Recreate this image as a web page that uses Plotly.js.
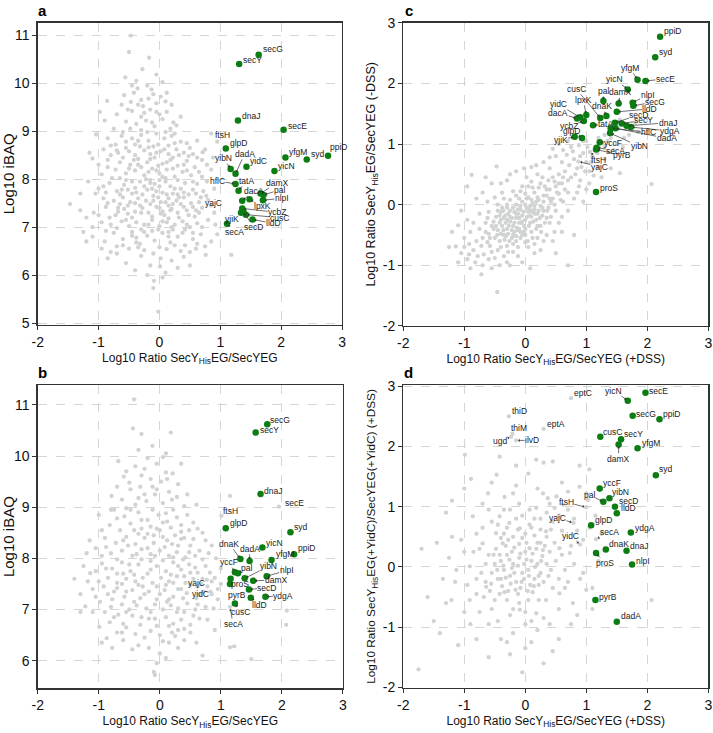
<!DOCTYPE html>
<html><head><meta charset="utf-8">
<script src="https://cdn.plot.ly/plotly-3.0.1.min.js"></script>
<style>html,body{margin:0;padding:0;background:#fff}#chart{width:713px;height:733px}</style>
</head><body><div id="chart"></div>
<script>
// ---------------- DATA ----------------
const ticksRatio = [-2,-1,0,1,2,3];
const ticksIBAQa = [5,6,7,8,9,10,11];
const ticksIBAQb = [6,7,8,9,10,11];

// Panel a: Log10 ratio SecY(His)EG/SecYEG (x) vs Log10 iBAQ (y), background proteins
const greyA = [[-0.47,10.99],[-0.50,10.65],[-0.17,10.53],[-0.28,10.29],[-0.56,10.12],[-0.05,10.18],[-0.38,10.05],[0.05,10.02],
[-0.36,9.89],[-0.13,9.87],[-0.10,9.77],[-0.47,9.61],[-0.86,9.63],[-0.27,9.52],[-0.58,9.75],[-0.20,9.95],[0.02,9.72],[-0.42,9.80],[-0.30,9.65],[-0.05,9.58],[0.10,9.62],[-0.62,9.55],[-0.18,9.68],
[0.23,9.18],[-0.70,9.35],[-0.45,9.42],[-0.30,9.30],[-0.15,9.45],[0.0,9.35],[0.12,9.40],[-0.55,9.20],[-0.38,9.15],[-0.22,9.22],[-0.08,9.10],[0.05,9.25],[-0.75,9.05],[-0.30,9.02],[0.18,9.05],[-0.48,9.05],[-0.90,9.22],[0.35,9.30],[-0.12,9.18],
[-1.04,8.93],[0.71,8.56],[-0.62,8.90],[-0.45,8.85],[-0.30,8.92],[-0.18,8.80],[-0.05,8.95],[0.08,8.85],[0.20,8.90],[0.35,8.78],[-0.80,8.70],[-0.55,8.65],[-0.40,8.72],[-0.25,8.60],[-0.10,8.68],[0.02,8.58],[0.15,8.70],[0.28,8.62],[0.45,8.75],[-0.68,8.55],[0.55,8.52],[-0.15,8.52],[0.40,8.55],[-0.92,8.62],[0.62,8.80],[0.85,8.95],
[-1.10,8.43],[-0.85,8.40],[-0.60,8.45],[-0.48,8.30],[-0.35,8.42],[-0.20,8.35],[-0.08,8.45],[0.05,8.32],[0.18,8.40],[0.30,8.28],[0.45,8.38],[0.58,8.25],[0.70,8.40],[-0.72,8.20],[-0.55,8.12],[-0.40,8.18],[-0.25,8.08],[-0.12,8.22],[0.00,8.12],[0.12,8.20],[0.25,8.05],[0.38,8.15],[0.52,8.08],[0.65,8.15],[-0.95,8.10],[-0.30,8.25],[0.10,8.02],[-0.18,8.15],[0.85,8.20],[-0.65,8.02],[0.22,8.45],[-0.02,8.28],
[-1.17,7.95],[-1.00,7.80],[-0.82,7.92],[-0.70,7.75],[-0.58,7.88],[-0.45,7.70],[-0.32,7.95],[-0.20,7.78],[-0.08,7.90],[0.05,7.72],[0.18,7.85],[0.30,7.68],[0.42,7.92],[0.55,7.78],[0.68,7.62],[0.80,7.57],[-0.92,7.60],[-0.75,7.55],[-0.60,7.62],[-0.48,7.52],[-0.35,7.60],[-0.22,7.55],[-0.10,7.65],[0.02,7.52],[0.15,7.60],[0.28,7.55],[0.40,7.62],[0.52,7.50],[-0.15,7.98],[0.10,7.95],[-0.40,7.82],[0.35,7.80],[0.62,7.90],[-0.05,7.75],[0.22,7.70],[-0.28,7.68],[0.48,7.68],[-0.55,7.98],[0.90,7.80],
[-1.30,7.35],[-1.47,7.48],[-1.08,7.30],[-0.88,7.42],[-0.72,7.25],[-0.58,7.38],[-0.45,7.20],[-0.32,7.45],[-0.18,7.30],[-0.05,7.42],[0.08,7.25],[0.20,7.38],[0.32,7.20],[0.45,7.35],[0.58,7.22],[0.70,7.40],[-0.95,7.10],[-0.80,7.05],[-0.62,7.12],[-0.50,7.02],[-0.38,7.10],[-0.25,7.05],[-0.12,7.15],[0.00,7.02],[0.12,7.10],[0.25,7.05],[0.38,7.12],[0.50,7.00],[0.62,7.08],[0.80,7.15],[-0.15,7.48],[0.15,7.45],[-0.40,7.32],[0.35,7.48],[0.05,7.33],[-0.65,7.48],[0.90,7.30],
[-1.10,6.80],[-0.90,6.70],[-0.75,6.88],[-0.60,6.75],[-0.45,6.90],[-0.32,6.65],[-0.20,6.82],[-0.08,6.72],[0.05,6.88],[0.18,6.68],[0.30,6.80],[0.42,6.62],[0.55,6.75],[0.68,6.85],[0.85,6.70],[-0.50,6.55],[-0.25,6.52],[0.0,6.58],[0.12,6.54],[0.35,6.50],[-0.70,6.60],[0.60,6.55],[-0.02,6.95],[-0.38,6.78],[0.22,6.95],
[1.18,6.42],[0.76,6.42],[0.01,6.18],[-0.85,6.35],[-0.55,6.25],[-0.30,6.40],[-0.15,6.20],[0.20,6.30],[0.40,6.38],[-0.70,6.45],[0.10,6.05],[-0.40,6.10],[0.50,6.20],
[-0.10,5.73],[-0.02,5.24],[-0.09,5.88],[0.05,5.95],
[-0.52,9.45],[-0.35,9.55],[-0.05,9.40],[0.20,9.55],[-0.60,8.98],[-0.20,8.98],[0.10,8.98],[0.28,9.12],[-0.85,8.85],[-0.35,8.80],[-0.02,8.72],[0.25,8.75],[0.50,8.65],[-0.72,8.72],[-0.50,8.58],[-0.32,8.68],[-0.18,8.66],[0.08,8.62],[0.32,8.50],[-0.80,8.50],[-0.40,8.50],[-0.05,8.55],[0.15,8.52],[0.62,8.45],[-1.00,8.30],[-0.65,8.35],[-0.42,8.40],[-0.15,8.42],[0.12,8.35],[0.40,8.30],[0.78,8.30],[-0.85,8.25],[-0.50,8.22],[-0.35,8.30],[-0.05,8.18],[0.22,8.22],[0.45,8.18],[0.70,8.05],[-0.78,8.02],[-0.45,7.95],[-0.22,8.00],[0.00,7.98],[0.30,7.98],[0.55,7.95],[0.78,7.95],[-1.05,7.70],[-0.88,7.72],[-0.65,7.68],[-0.52,7.78],[-0.38,7.72],[-0.25,7.85],[-0.12,7.80],[0.00,7.85],[0.12,7.68],[0.25,7.80],[0.40,7.72],[0.60,7.70],[0.72,7.75],[-0.85,7.50],[-0.68,7.40],[-0.52,7.45],[-0.40,7.50],[-0.28,7.40],[-0.10,7.55],[0.00,7.40],[0.10,7.52],[0.22,7.48],[0.40,7.42],[0.55,7.42],[0.65,7.52],[-1.20,7.20],[-1.00,7.25],[-0.82,7.20],[-0.68,7.32],[-0.52,7.28],[-0.30,7.30],[-0.12,7.22],[0.02,7.28],[0.15,7.18],[0.30,7.30],[0.48,7.25],[0.65,7.30],[0.85,7.45],[-1.10,7.00],[-0.70,6.98],[-0.55,7.15],[-0.30,6.95],[-0.18,7.05],[0.05,7.12],[0.20,7.00],[0.42,6.95],[0.55,6.88],[0.70,7.00],[-0.88,6.92],[-0.45,6.82],[-0.25,6.90],[-0.12,6.92],[0.15,6.80],[0.38,6.88],[0.62,6.65],[-0.95,6.55],[-0.60,6.62],[-0.35,6.58],[-0.10,6.45],[0.25,6.62],[0.50,6.48],[0.75,6.60],[-1.20,6.70],[-0.80,6.48],[0.30,6.15],[-0.20,6.00],[0.02,6.35],[0.45,7.05],[-0.15,7.92],[0.48,8.48],[-0.25,9.38],[0.12,9.80],[-0.45,9.95],[0.25,8.95],[-0.55,8.78],[0.05,8.05],[0.32,7.62],[-0.02,7.62],[-0.62,7.78],[0.18,7.35],[-0.38,6.68],[0.92,7.05],[0.95,6.85],[-1.30,7.70],[-1.15,8.55],[-0.98,9.40],[0.75,8.62],[0.88,8.45],[-1.25,6.90],[-0.92,7.85],[-0.70,8.60],[0.60,7.35],[0.15,6.90]];
const greyLabA = ['ftsH','yajC'];
const greyLabAx = [0.95,0.77];
const greyLabAy = [8.78,7.65];
const namesA = ['secG','secY','dnaJ','secE','glpD','yfgM','syd','ppiD','yibN','dadA','yidC','yicN','hflC','tatA','damX','pal','nlpI','dacA','lpxK','ycbZ','yjiK','cusC','lldD','secA','secD'];
const xA = [1.63,1.31,1.29,2.04,1.09,2.07,2.42,2.77,1.17,1.25,1.43,1.89,1.25,1.30,1.66,1.71,1.70,1.36,1.48,1.36,1.34,1.42,1.53,1.11,1.38];
const yA = [10.59,10.40,9.22,9.03,8.64,8.45,8.41,8.49,8.21,8.11,8.26,8.17,7.90,7.76,7.70,7.67,7.56,7.55,7.58,7.39,7.30,7.26,7.16,7.07,7.33];

// Panel b
const greyB = [[-0.42,11.11],[-0.44,10.54],[-0.30,10.43],[0.18,10.46],[0.10,10.05],[-0.20,9.96],[0.21,9.66],[-0.59,9.60],[-0.79,9.22],[1.15,9.22],
[0.05,9.98],[-0.05,9.85],[-0.25,9.75],[-0.40,9.80],[-0.55,9.70],[0.02,9.50],[-0.15,9.55],[-0.32,9.40],[-0.48,9.35],[0.15,9.30],[-0.08,9.25],[0.30,9.45],[-0.62,9.15],[-0.22,9.12],[0.05,9.08],[0.40,9.02],[-0.40,9.05],[0.20,9.15],[-0.75,8.95],[-0.12,8.95],[0.55,8.70],
[-1.0,8.85],[-0.58,8.82],[-0.35,8.90],[-0.20,8.75],[-0.02,8.85],[0.12,8.72],[0.28,8.80],[0.45,8.85],[-0.82,8.65],[-0.65,8.55],[-0.48,8.68],[-0.30,8.58],[-0.15,8.62],[0.00,8.55],[0.18,8.60],[0.35,8.52],[0.62,8.58],[0.75,8.35],[-0.90,8.40],[-0.72,8.30],[-0.55,8.42],[-0.40,8.28],[-0.25,8.40],[-0.10,8.30],[0.05,8.42],[0.20,8.28],[0.35,8.38],[0.50,8.25],[0.65,8.15],[-1.05,8.20],[-0.80,8.10],[-0.62,8.15],[-0.45,8.05],[-0.30,8.18],[-0.15,8.08],[0.00,8.15],[0.15,8.05],[0.28,8.12],[0.42,8.02],[0.58,8.05],[0.80,8.10],[-0.20,8.48],[0.10,8.88],[-0.48,8.95],
[-1.14,7.71],[-1.25,7.85],[-0.95,7.90],[-0.78,7.80],[-0.62,7.92],[-0.48,7.75],[-0.35,7.88],[-0.20,7.70],[-0.05,7.85],[0.10,7.75],[0.22,7.92],[0.35,7.78],[0.48,7.88],[0.62,7.72],[0.75,7.85],[0.90,7.62],[-1.00,7.55],[-0.85,7.62],[-0.70,7.52],[-0.55,7.60],[-0.40,7.55],[-0.28,7.62],[-0.12,7.52],[0.02,7.62],[0.15,7.55],[0.28,7.65],[0.42,7.52],[0.55,7.60],[0.68,7.50],[0.85,7.55],[-0.30,7.98],[0.05,7.96],[0.38,7.98],[-0.60,7.70],[0.50,7.72],[1.00,7.80],
[-1.22,7.06],[-0.98,7.15],[-1.10,7.40],[-0.85,7.30],[-0.70,7.42],[-0.58,7.25],[-0.45,7.38],[-0.32,7.22],[-0.18,7.35],[-0.05,7.20],[0.08,7.38],[0.22,7.25],[0.35,7.40],[0.44,7.32],[0.60,7.22],[0.72,7.35],[0.95,7.20],[-0.80,7.05],[-0.62,7.10],[-0.50,7.00],[-0.38,7.08],[-0.22,7.02],[-0.08,7.10],[0.05,7.00],[0.18,7.08],[0.30,7.02],[0.45,7.12],[0.58,7.00],[0.75,7.05],[-0.28,7.45],[0.10,7.48],[0.62,7.45],
[-0.99,6.66],[-0.87,6.44],[-1.10,6.95],[-0.75,6.85],[-0.60,6.72],[-0.45,6.88],[-0.32,6.70],[-0.18,6.82],[-0.05,6.68],[0.10,6.85],[0.22,6.72],[0.35,6.80],[0.50,6.70],[0.65,6.82],[-0.70,6.55],[-0.40,6.52],[-0.15,6.58],[0.00,6.50],[0.20,6.55],[0.40,6.62],[2.07,6.70],[2.08,6.98],[-0.55,6.95],[0.28,6.95],
[1.15,6.26],[1.22,6.28],[0.0,6.14],[-0.10,5.78],[-0.08,5.72],[1.50,6.03],[-0.60,6.40],[-0.35,6.30],[0.15,6.35],[0.40,6.40],[0.70,6.10],
[-0.50,9.48],[-0.30,9.62],[-0.12,9.40],[0.12,9.55],[-0.35,9.18],[-0.05,9.35],[0.28,9.20],[-0.55,8.98],[-0.30,8.75],[0.05,8.70],[0.22,8.95],[-0.70,8.78],[-0.42,8.55],[-0.10,8.45],[0.25,8.45],[0.48,8.55],[-0.95,8.55],[-0.60,8.35],[-0.35,8.48],[-0.05,8.58],[0.12,8.35],[0.40,8.40],[0.70,8.50],[-1.15,8.35],[-0.88,8.22],[-0.52,8.25],[-0.20,8.20],[0.08,8.22],[0.30,8.25],[0.55,8.38],[0.85,8.25],[-0.95,8.05],[-0.70,7.98],[-0.38,8.08],[-0.08,8.05],[0.22,8.02],[0.48,8.12],[0.70,7.98],[-1.05,7.75],[-0.88,7.80],[-0.70,7.70],[-0.42,7.68],[-0.15,7.78],[0.18,7.68],[0.40,7.65],[0.58,7.82],[0.82,7.72],[-1.18,7.55],[-0.92,7.45],[-0.62,7.50],[-0.35,7.48],[-0.05,7.45],[0.22,7.52],[0.50,7.48],[0.78,7.45],[0.95,7.40],[-1.05,7.25],[-0.78,7.20],[-0.55,7.35],[-0.25,7.30],[0.00,7.30],[0.15,7.20],[0.38,7.22],[0.65,7.30],[0.85,7.30],[-0.90,6.95],[-0.68,6.90],[-0.42,7.15],[-0.15,6.95],[0.12,7.15],[0.40,6.95],[0.62,7.10],[0.88,7.02],[-0.82,6.75],[-0.55,6.65],[-0.30,6.85],[-0.08,6.82],[0.15,6.68],[0.30,6.60],[0.55,6.88],[0.78,6.80],[-0.62,6.55],[-0.25,6.45],[0.05,6.38],[0.25,6.48],[0.50,6.55],[-0.45,6.22],[-0.18,6.25],[0.30,6.25],[-0.78,6.25],[0.60,6.35],[-1.30,7.30],[-1.40,7.60],[-1.20,8.10],[-1.30,6.95],[0.92,8.00],[1.00,7.50],[0.45,9.25],[-0.70,9.40],[0.10,9.68],[-0.12,10.20],[-0.35,10.12],[0.35,9.85],[-0.68,9.90],[-0.25,9.25],[0.60,9.05],[0.35,8.65],[-0.80,8.95],[-0.15,7.95],[0.30,7.85],[-0.50,7.88],[0.70,7.60],[-0.75,7.35],[0.30,7.40],[0.90,6.60],[-0.95,6.35],[0.10,6.05],[-0.05,5.95]];
const greyLabB = ['secE','ftsH','secA','yajC','yidC'];
const greyLabBx = [1.95,1.01,1.15,0.77,0.83];
const greyLabBy = [9.01,8.83,7.05,7.58,7.35];
const namesB = ['secG','secY','dnaJ','glpD','syd','yicN','ppiD','yfgM','dnaK','dadA','yccF','pal','nlpI','yibN','proS','damX','pyrB','secD','lldD','ydgA','cusC'];
const xB = [1.76,1.57,1.65,1.08,2.14,1.68,2.20,1.83,1.32,1.47,1.23,1.28,1.75,1.39,1.16,1.53,1.15,1.46,1.49,1.73,1.23];
const yB = [10.62,10.46,9.26,8.59,8.51,8.21,8.08,7.97,7.99,7.95,7.73,7.71,7.65,7.61,7.60,7.56,7.50,7.39,7.23,7.25,7.12];

// Panel c: (+DSS) vs (-DSS)
const greyC = [[-0.45,-0.42],[-0.38,-0.35],[-0.30,-0.40],[-0.25,-0.28],[-0.20,-0.35],[-0.15,-0.22],[-0.10,-0.30],[-0.05,-0.18],[0.00,-0.25],[0.05,-0.12],[0.10,-0.20],[0.15,-0.08],[0.20,-0.15],[0.25,-0.02],[-0.40,-0.25],[-0.33,-0.18],[-0.28,-0.48],[-0.18,-0.12],[-0.12,-0.42],[-0.08,-0.08],[-0.02,-0.35],[0.02,-0.05],[0.08,-0.30],[0.12,0.02],[0.18,-0.25],[0.22,0.08],[-0.50,-0.55],[-0.42,-0.60],[-0.35,-0.50],[-0.22,-0.55],[-0.55,-0.35],[-0.60,-0.48],[-0.48,-0.20],[-0.25,-0.10],[-0.15,0.00],[-0.05,0.05],[0.05,0.12],[0.30,0.05],[0.28,-0.18],[0.35,0.15],[0.38,-0.05],[0.45,0.10],[0.40,0.25],[0.50,0.30],[0.55,0.18],[0.60,0.35],[0.32,0.30],[0.15,0.20],[0.00,0.18],[-0.10,0.10],[-0.30,-0.05],[-0.65,-0.30],[-0.70,-0.55],[-0.58,-0.68],[-0.45,-0.75],[-0.30,-0.68],[-0.15,-0.60],[0.00,-0.50],[0.10,-0.45],[0.25,-0.35],[-0.80,-0.60],[-0.75,-0.40],[-0.85,-0.75],[-0.68,-0.82],[-0.50,-0.88],[-0.35,-0.85],[-0.20,-0.78],[0.05,-0.70],[0.20,-0.55],[0.40,-0.30],[0.50,-0.10],[0.62,0.05],[0.70,0.20],[0.75,0.45],[0.65,0.55],[0.55,0.50],[0.45,0.45],[0.28,0.45],[0.10,0.38],[-0.05,0.30],[-0.20,0.22],[-0.35,0.10],[-0.45,0.00],[-0.60,-0.12],[-0.90,-0.45],[-0.95,-0.90],[-1.00,-0.55],[-1.10,-0.34],[-1.14,-0.69],[-1.05,-0.80],[-0.90,-1.05],[-0.82,-0.95],[-0.70,-1.00],[-0.55,-1.05],[-0.46,-1.44],[0.70,-1.00],[-0.47,0.63],[-0.88,0.49],[-0.70,0.20],[-0.55,0.35],[-0.30,0.40],[-0.15,0.55],[0.10,0.62],[0.30,0.70],[0.50,0.80],[0.80,0.75],[0.85,0.60],[0.90,0.40],[0.95,0.85],[1.00,0.70],[1.05,0.55],[1.10,0.80],[1.15,0.95],[0.88,0.98],[0.75,0.95],[1.20,0.62],[1.30,0.75],[1.35,1.05],[1.45,0.90],[1.55,0.52],[2.07,0.34],[1.62,1.10],[1.80,1.35],[1.30,1.15],[0.60,0.70],[0.40,0.60],[0.20,0.50],[0.85,0.20],[0.70,-0.10],[0.55,-0.30],[0.35,-0.50],[0.15,-0.80],[-0.05,-0.95],[-0.25,-1.00],[1.00,0.25],[0.95,1.05],[0.70,1.05],[0.55,1.00],[0.45,0.92],[0.68,0.82],[-1.10,-0.95],[-0.95,-0.25],[-0.80,0.10],[0.35,-0.22],[-0.08,-0.45],[0.48,-0.45],[0.60,-0.20],[-0.38,-0.05],[0.02,0.45],[-0.25,-0.20],[-0.12,-0.15],[0.08,-0.02],[-0.32,-0.30],[-0.18,-0.45],[0.18,0.05],[-0.40,-0.12],[0.30,-0.10],[0.22,0.28],[-0.52,-0.40],[-0.62,-0.22],[0.42,0.05],[0.12,-0.12],[-0.05,-0.28],[1.25,0.45],[1.55,1.40],[1.70,1.15],[1.85,1.20],[1.60,0.95],[1.40,1.10],[1.20,1.10],
[-0.42,-0.30],[-0.36,-0.42],[-0.30,-0.25],[-0.27,-0.35],[-0.22,-0.22],[-0.18,-0.30],[-0.14,-0.38],[-0.10,-0.22],[-0.07,-0.30],[-0.03,-0.12],[0.00,-0.40],[0.03,-0.20],[0.06,-0.35],[0.10,-0.10],[0.13,-0.28],[0.16,-0.15],[0.20,-0.35],[0.24,-0.22],[-0.46,-0.50],[-0.40,-0.48],[-0.34,-0.58],[-0.26,-0.60],[-0.20,-0.50],[-0.15,-0.52],[-0.08,-0.55],[-0.02,-0.45],[0.04,-0.60],[0.12,-0.55],[0.18,-0.40],[0.26,-0.45],[0.32,-0.30],[0.36,-0.10],[0.30,0.15],[0.20,0.12],[0.10,0.08],[0.00,0.00],[-0.08,-0.02],[-0.20,-0.05],[-0.28,-0.15],[-0.36,-0.10],[-0.45,-0.10],[-0.52,-0.28],[-0.58,-0.55],[-0.65,-0.45],[-0.72,-0.68],[-0.62,-0.62],[-0.55,-0.78],[-0.40,-0.70],[-0.28,-0.78],[-0.12,-0.70],[0.00,-0.62],[0.15,-0.65],[0.30,-0.60],[0.42,-0.20],[0.48,0.00],[0.52,0.20],[0.58,0.08],[0.65,0.25],[0.70,0.40],[0.62,0.45],[0.48,0.38],[0.38,0.40],[0.25,0.35],[0.12,0.28],[0.05,0.30],[-0.08,0.22],[-0.15,0.15],[-0.25,0.08],[-0.38,0.20],[-0.50,0.12],[-0.62,0.05],[-0.75,-0.15],[-0.85,-0.30],[-0.92,-0.65],[-0.78,-0.85],[-0.60,-0.90],[-0.42,-1.00],[-0.12,-0.85],[0.25,-0.75],[0.45,-0.60],[0.60,-0.45],[0.80,0.10],[0.88,0.30],[0.92,0.62],[0.82,0.50],[0.72,0.65],[0.78,0.88],[1.02,0.95],[1.08,0.70],[1.18,0.85],[1.12,0.48],[0.98,0.55],[0.90,0.80],[0.62,0.90],[0.40,0.78],[0.18,0.65],[-0.02,0.60],[-0.25,0.50],[-0.40,0.35],[-0.65,0.45],[-0.95,0.30],[-1.05,-0.10],[-1.20,-0.45],[-1.00,-0.70],[-0.92,-0.82],[-1.25,-0.70],[-0.72,-1.15],[-0.30,-0.95],[0.08,-1.05],[0.50,-0.80],[0.80,-0.50],[0.95,0.05],[1.05,0.35],[1.40,0.60],[1.30,0.95],[1.50,1.00],[1.00,1.05],[0.82,1.10],[-0.20,-0.65],[-0.35,-0.22],[0.08,-0.18],[-0.12,-0.08],[0.28,-0.05],[-0.22,-0.42],[-0.48,-0.35],[0.02,0.10],[0.35,0.25],[-0.30,0.00],[-0.05,-0.50],[0.15,-0.02],[-0.42,-0.18],[-0.15,-0.15],[0.06,-0.08],[0.22,-0.10],[-0.32,-0.52],[-0.10,-0.40],[0.40,0.10],[0.55,0.35]];
const greyLabC = ['ftsH','yajC'];
const greyLabCx = [1.06,0.87];
const greyLabCy = [0.87,0.71];
const namesC = ['ppiD','syd','yfgM','secE','yicN','pal','damX','nlpI','secG','lldD','cusC','dnaK','lpxK','yidC','dacA','ycbZ','tatA','glpD','yjiK','secD','secY','dnaJ','ydgA','hflC','dadA','yibN','yccF','secA','pyrB','proS'];
const xC = [2.21,2.13,1.84,1.97,1.68,1.28,1.53,1.76,1.77,1.50,1.23,1.33,1.00,0.90,0.85,0.96,1.11,0.93,0.81,1.47,1.58,1.66,1.73,1.40,1.48,1.39,1.22,1.17,1.16,1.16];
const yC = [2.77,2.43,2.06,2.04,1.90,1.71,1.67,1.68,1.63,1.53,1.43,1.46,1.48,1.44,1.42,1.38,1.31,1.10,1.12,1.35,1.34,1.30,1.28,1.26,1.26,1.18,1.03,0.94,0.91,0.21];

// Panel d: (+DSS) vs (+YidC)(+DSS)
const greyD = [[-0.40,0.10],[-0.35,-0.05],[-0.30,0.20],[-0.25,-0.15],[-0.20,0.05],[-0.15,-0.25],[-0.10,0.15],[-0.05,-0.10],[0.00,0.25],[0.05,-0.05],[0.10,0.10],[0.15,-0.20],[0.20,0.05],[0.25,-0.10],[-0.45,-0.20],[-0.38,-0.32],[-0.28,-0.40],[-0.18,0.32],[-0.08,-0.35],[0.02,0.40],[0.08,-0.30],[0.18,0.30],[0.28,0.18],[-0.32,0.35],[-0.22,-0.02],[-0.12,-0.45],[-0.02,0.05],[0.12,-0.42],[0.22,-0.30],[0.30,-0.25],[-0.50,0.05],[-0.55,-0.10],[-0.48,0.30],[-0.42,-0.45],[-0.30,-0.55],[-0.10,-0.60],[0.05,-0.55],[0.25,0.40],[0.35,0.05],[0.38,-0.15],[0.40,0.25],[-0.60,0.20],[-0.65,-0.25],[-0.58,-0.40],[0.45,-0.35],[0.50,0.10],[-0.20,0.50],[0.00,0.55],[0.15,0.52],[-0.35,0.55],
[-0.99,1.86],[-0.42,1.83],[-0.15,1.68],[0.18,1.78],[0.30,1.73],[0.45,1.75],[0.89,1.68],[1.05,1.62],[-0.89,1.46],[-0.47,1.53],[-0.61,1.22],[-0.34,1.16],[-0.20,1.22],[0.29,1.22],[0.37,1.14],[0.51,1.17],[0.07,0.95],[0.18,0.98],[0.48,0.98],[0.62,1.03],[0.89,1.33],[1.00,1.22],[1.03,1.11],[-0.42,0.84],[-0.86,0.84],[-0.26,0.73],[-0.09,0.64],[0.07,0.70],[0.34,0.59],[-0.48,0.56],[-0.70,0.39],[-0.37,0.39],[0.07,0.31],[0.29,0.28],[0.56,0.31],[0.73,0.23],[-1.13,-0.05],[-0.91,0.01],[-1.21,-0.55],[-0.91,-0.55],[-0.64,-0.33],[0.34,-0.55],[0.56,-0.44],[0.78,-0.60],[1.00,-0.38],[2.07,-0.55],[-0.09,-0.71],[0.18,-0.77],
[-1.40,-1.10],[-1.10,-1.30],[-0.60,-1.50],[0.30,-1.60],[0.55,-1.20],[-0.20,-1.10],[0.00,-1.35],[0.75,-0.95],[-0.90,-0.95],[-1.60,-0.50],[-1.35,-0.20],[-1.70,0.30],[-1.20,0.50],[-0.75,-0.75],[-0.45,-0.90],[-0.30,-1.25],[0.40,-0.95],[0.20,-1.05],[-0.80,-0.20],[-1.00,0.25],[0.65,-0.05],[0.80,0.05],[0.90,-0.20],[0.60,0.60],[0.80,0.80],[-0.70,0.65],[-1.30,0.90],[-1.50,-0.90],[-1.75,-1.70],[-0.05,-1.75],[1.10,-0.70],[0.95,0.45],[0.70,0.95],[-0.55,-0.70],[-0.25,-0.80],[0.10,-0.90],[-0.60,0.95],[-0.10,1.05],[0.25,0.80],[-0.80,0.55],[-0.15,0.80],[0.45,0.75],[0.55,-0.70],[-1.00,-0.75],[-1.25,0.15],[1.20,0.10],[1.25,0.55],[1.05,0.65],
[-0.42,0.20],[-0.36,0.02],[-0.32,-0.18],[-0.26,0.12],[-0.22,0.25],[-0.18,-0.10],[-0.12,0.02],[-0.08,0.22],[-0.02,-0.20],[0.02,0.12],[0.06,-0.15],[0.12,0.22],[0.16,0.00],[0.22,-0.15],[0.26,0.10],[-0.46,-0.05],[-0.40,-0.20],[-0.34,-0.42],[-0.24,-0.28],[-0.16,-0.38],[-0.06,-0.25],[0.04,-0.40],[0.14,-0.32],[0.20,0.40],[-0.10,0.38],[-0.28,0.45],[-0.52,0.20],[-0.56,-0.28],[-0.50,-0.55],[-0.20,-0.70],[0.00,-0.75],[0.22,-0.55],[0.32,0.35],[0.42,-0.05],[0.48,0.40],[0.35,0.50],[-0.05,0.48],[-0.40,0.48],[-0.65,0.05],[-0.72,-0.10],[-0.75,0.30],[-0.68,-0.50],[0.55,-0.20],[0.60,0.20],[0.65,-0.35],[0.10,0.65],[-0.30,0.65],[-0.55,0.75],[0.35,0.90],[-0.35,0.95],[0.55,0.85],[-0.85,0.25],[-0.95,-0.30],[-1.05,0.45],[-0.80,-0.45],[0.75,0.35],[0.85,0.60],[-0.15,1.35],[0.20,1.30],[0.60,1.40],[-0.55,1.40],[-1.20,1.10],[-0.40,-1.20],[0.10,-1.25],[-0.80,-1.20],[0.85,-0.80],[0.95,-0.10],[1.10,-0.35],[-1.45,0.40],[-1.30,-0.60],[-0.05,0.85],[0.40,1.05],[-0.70,1.05],[0.25,0.62],[-0.25,-1.45],[0.45,-1.40],[-1.00,1.30],[0.70,1.25],[1.15,0.85],[0.05,1.55],[-0.25,0.95],[0.00,-0.95],[0.30,-0.85],[-0.60,-0.95],[0.70,-0.25],[-0.45,0.70],[0.15,0.80],[-1.15,-0.25],[-0.12,0.62],[0.42,0.62]];
const greyLabD = ['eptC','thiD','eptA','thiM','ugd','ilvD','ftsH','yajC','yidC','secA'];
const greyLabDx = [0.75,-0.27,0.30,-0.21,-0.23,-0.15,1.00,0.79,0.90,1.16];
const greyLabDy = [2.80,2.50,2.29,2.21,2.16,2.10,0.99,0.73,0.37,0.46];
const namesD = ['secE','yicN','secG','ppiD','cusC','secY','damX','yfgM','syd','yccF','yibN','pal','secD','lldD','glpD','ydgA','dnaK','dnaJ','proS','nlpI','pyrB','dadA'];
const xD = [1.97,1.68,1.76,2.20,1.23,1.57,1.53,1.84,2.14,1.22,1.38,1.28,1.47,1.50,1.08,1.73,1.32,1.66,1.16,1.75,1.15,1.50];
const yD = [2.89,2.76,2.51,2.45,2.16,2.12,2.03,1.97,1.52,1.30,1.14,1.08,1.00,0.89,0.69,0.57,0.29,0.27,0.23,0.04,-0.55,-0.91];

// ---------------- LABEL PLACEMENT ----------------
// arrow labels: [dx, dy, 1] = label centre offset in px; plain labels: [xshift, yshift(up), 0, anchor]
const placeA = {secG:[3,0,0],secY:[3,-2,0],dnaJ:[3,-1,0],secE:[3,-2,0],glpD:[3,-1,0],yfgM:[3,0,0],syd:[3,-1,0],ppiD:[1,3,0],yidC:[3,0,0],yicN:[3,-1,0],
 yibN:[-7,-11,1],dadA:[9,-20,1],hflC:[-18,-3,1],tatA:[8,-10,1],dacA:[12,-10,1],damX:[17,-11,1],pal:[16,-5,1],nlpI:[19,-2,1],lpxK:[13,7,1],ycbZ:[35,4,1],cusC:[34,3,1],lldD:[21,4,1],yjiK:[-9,6,1],secA:[8,8,1],secD:[10,16,1],
 ftsH:[-3,1,0],yajC:[7,7,1]};
const placeB = {secG:[2,-2,0],secY:[3,-3,0],dnaJ:[2,-3,0],secE:[5,-2,0],ftsH:[1,-1,0],glpD:[3,-1,0],syd:[3,-1,0],yicN:[3,-1,0],ppiD:[3,0,0],yfgM:[3,0,0],
 dnaK:[-11,-15,1],dadA:[0,-12,1],yccF:[-6,-10,1],pal:[9,-5,1],nlpI:[20,-6,1],yibN:[24,-12,1],proS:[9,5,1],damX:[23,-1,1],pyrB:[7,11,1],secD:[18,-2,1],lldD:[9,7,1],ydgA:[18,-1,1],cusC:[6,9,1],secA:[3,17,1],yajC:[-10,3,1],yidC:[-10,2,1]};
const placeC = {ppiD:[3,0,0],syd:[3,-1,0],proS:[3,-2,0],yfgM:[-8,-12,1],secE:[20,-2,1],yicN:[-13,-10,1],pal:[0,-10,1],damX:[2,-11,1],nlpI:[15,-8,1],secG:[22,-4,1],lldD:[33,-3,1],cusC:[-24,-29,1],dnaK:[-4,-10,1],lpxK:[-3,-15,1],yidC:[-22,-13,1],dacA:[-19,-6,1],ycbZ:[-15,5,1],tatA:[13,-1,1],glpD:[-11,-7,1],yjiK:[-14,3,1],secD:[24,-8,1],secY:[22,-3,1],dnaJ:[41,-3,1],ydgA:[39,4,1],hflC:[38,4,1],dadA:[51,10,1],yibN:[29,13,1],yccF:[13,1,1],secA:[19,3,1],pyrB:[26,6,1],ftsH:[9,8,1],yajC:[21,5,1]};
const placeD = {secE:[3,-4,0],yicN:[-14,-10,1],secG:[2,-4,0],ppiD:[3,-1,0],cusC:[2,-1,0],secY:[2,-1,0],damX:[0,14,1],yfgM:[3,-1,0],syd:[2,0,0],yccF:[2,0,0],yibN:[2,0,0],pal:[-14,-7,1],secD:[3,0,0],lldD:[3,-1,0],glpD:[3,-1,0],ydgA:[3,-1,0],dnaK:[2,-1,0],dnaJ:[2,-1,0],proS:[9,10,1],nlpI:[3,-3,0],pyrB:[3,-3,0],dadA:[3,0,0],
 eptC:[2,-1,0],thiD:[2,-1,0],eptA:[2,-1,0],thiM:[-2,0,0],ugd:[-11,4,1],ilvD:[16,0,1],ftsH:[-20,-5,1],yajC:[-16,-5,1],yidC:[-10,-9,1],secA:[13,-7,1]};

// ---------------- BUILD ----------------
const FONT = 'Liberation Sans, Arial, sans-serif';
const GREY = '#d0d3d2', GREEN = '#0b7d12';
const traces = [], annotations = [];
function panel(k, grey, gl, glx, gly, names, xs, ys, place){
  const xa = k===1?'x':'x'+k, ya = k===1?'y':'y'+k;
  traces.push({type:'scatter',mode:'markers',x:grey.map(p=>p[0]),y:grey.map(p=>p[1]),xaxis:xa,yaxis:ya,
    marker:{size:4.3,color:GREY},hoverinfo:'skip'});
  traces.push({type:'scatter',mode:'markers',x:glx,y:gly,xaxis:xa,yaxis:ya,marker:{size:4.3,color:GREY},hoverinfo:'skip'});
  traces.push({type:'scatter',mode:'markers',x:xs,y:ys,xaxis:xa,yaxis:ya,marker:{size:6.5,color:GREEN},hoverinfo:'skip'});
  const all = names.map((n,i)=>[n,xs[i],ys[i]]).concat(gl.map((n,i)=>[n,glx[i],gly[i]]));
  all.forEach(([n,x,y])=>{
    const p = place[n] || [3,0,0];
    const a = {xref:xa,yref:ya,x:x,y:y,text:n,font:{family:FONT,size:8.5,color:'#222'}};
    if(p[2]){ Object.assign(a,{showarrow:true,ax:p[0],ay:p[1],arrowhead:1,arrowsize:0.8,arrowwidth:0.7,arrowcolor:'#333',standoff:2,startstandoff:0,borderpad:0}); }
    else { Object.assign(a,{showarrow:false,xanchor:p[3]||'left',yanchor:'bottom',xshift:p[0],yshift:p[1],borderpad:0}); }
    annotations.push(a);
  });
}
panel(1, greyA, greyLabA, greyLabAx, greyLabAy, namesA, xA, yA, placeA);
panel(2, greyB, greyLabB, greyLabBx, greyLabBy, namesB, xB, yB, placeB);
panel(3, greyC, greyLabC, greyLabCx, greyLabCy, namesC, xC, yC, placeC);
panel(4, greyD, greyLabD, greyLabDx, greyLabDy, namesD, xD, yD, placeD);

[['a',0.06,0.986],['b',0.06,0.492],['c',0.573,0.986],['d',0.573,0.492]].forEach(([t,x,y])=>{
  annotations.push({xref:'paper',yref:'paper',x:x,y:y,text:'<b>'+t+'</b>',showarrow:false,xanchor:'center',yanchor:'middle',font:{family:FONT,size:15,color:'#000'}});
});

function ax(domain, range, ticks, title, tsize){
  return {domain:domain,range:range,tickmode:'array',tickvals:ticks,ticktext:ticks.map(String),showline:true,mirror:true,linecolor:'#333',linewidth:1.3,
    ticks:'outside',ticklen:4,tickcolor:'#333',tickwidth:1,showgrid:true,gridcolor:'#d5d5d5',griddash:'dash',gridwidth:1,
    zeroline:false,tickfont:{family:FONT,size:14,color:'#111'},automargin:false,
    title:{text:title,font:{family:FONT,size:tsize,color:'#111'},standoff:4}};
}
const SUB = 'SecY<sub><span style="color:#111">His</span></sub>';
const xT = 'Log10 Ratio '+SUB+'EG/SecYEG';
const layout = {
  width:713,height:733,margin:{l:0,r:0,t:0,b:0},paper_bgcolor:'#fff',plot_bgcolor:'#fff',showlegend:false,hovermode:false,
  xaxis: ax([0.0529,0.4797],[-2,3],ticksRatio,xT,12), yaxis: ax([0.5566,0.969],[4.96,11.26],ticksIBAQa,'Log10 iBAQ',15),
  xaxis2: ax([0.0529,0.481],[-2,3],ticksRatio,xT,12), yaxis2: ax([0.061,0.4748],[5.46,11.39],ticksIBAQb,'Log10 iBAQ',15),
  xaxis3: ax([0.5656,0.9934],[-2,3],ticksRatio,xT+' (+DSS)',12), yaxis3: ax([0.5553,0.969],[-2,3],ticksRatio,'Log10 Ratio '+SUB+'EG/SecYEG (-DSS)',12.5),
  xaxis4: ax([0.5656,0.9934],[-2,3],ticksRatio,xT+' (+DSS)',12), yaxis4: ax([0.0614,0.4748],[-2.01,3.02],ticksRatio,'Log10 Ratio '+SUB+'EG(+YidC)/SecYEG(+YidC) (+DSS)',11.8),
  annotations:annotations
};
layout.xaxis.anchor='y'; layout.yaxis.anchor='x';
layout.xaxis2.anchor='y2'; layout.yaxis2.anchor='x2';
layout.xaxis3.anchor='y3'; layout.yaxis3.anchor='x3';
layout.xaxis4.anchor='y4'; layout.yaxis4.anchor='x4';
Plotly.newPlot('chart', traces, layout, {staticPlot:true,displayModeBar:false});
</script></body></html>
